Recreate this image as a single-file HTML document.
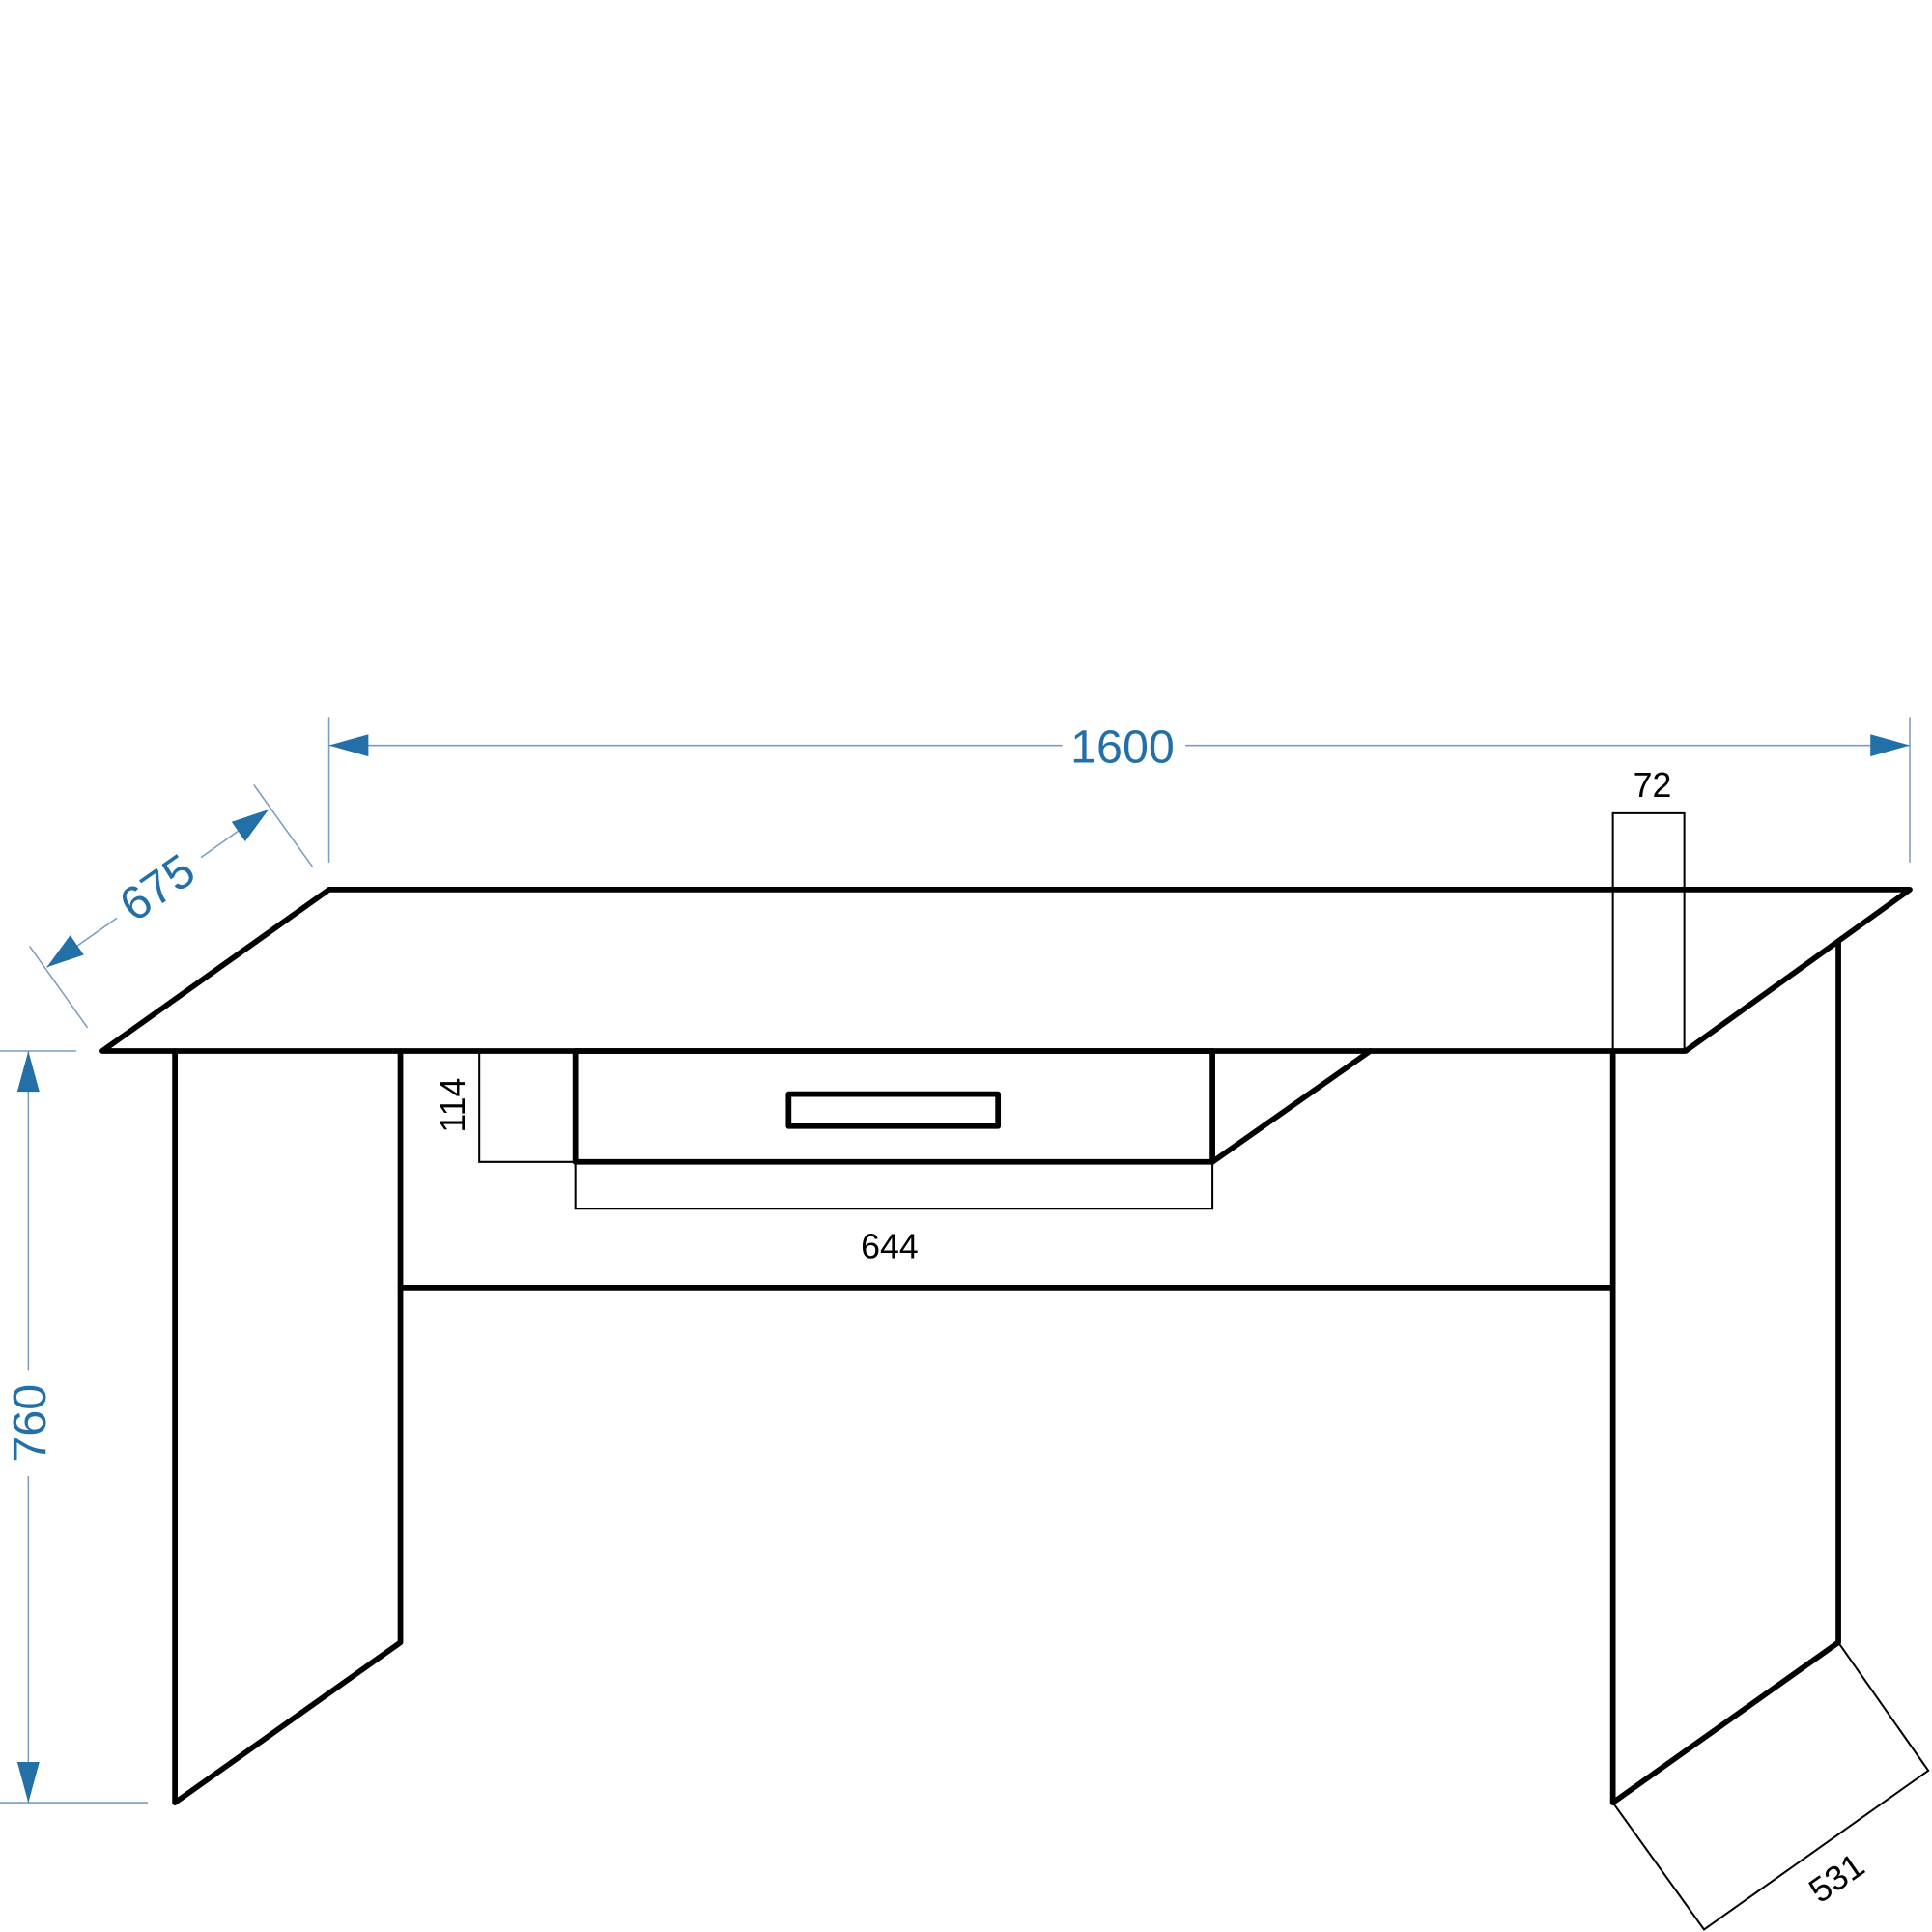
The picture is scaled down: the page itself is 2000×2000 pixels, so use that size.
<!DOCTYPE html>
<html><head><meta charset="utf-8"><style>html,body{margin:0;padding:0;background:#fff}svg{display:block}</style></head>
<body>
<svg width="2000" height="2000" viewBox="0 0 1568 1568" xmlns="http://www.w3.org/2000/svg" font-family="Liberation Sans, sans-serif">
<rect width="1568" height="1568" fill="#fff"/>
<g stroke="#000" stroke-width="4.5" fill="none" stroke-linejoin="round" stroke-linecap="round">
<polygon points="267,722 1550,722 1368,853 83,853"/>
<polyline points="142,853 142,1463 325,1333 325,853"/>
<line x1="325" y1="1045" x2="1309" y2="1045"/>
<rect x="467" y="853" width="517" height="90"/>
<line x1="984" y1="943" x2="1112" y2="853"/>
<rect x="640" y="888" width="170" height="26"/>
<polyline points="1309,853 1309,1463 1492,1333 1492,765"/>
</g>
<g stroke="#000" stroke-width="1.6" fill="none">
<polyline points="1309,853 1309,660 1367,660 1367,853"/>
<polyline points="1309,1463 1383,1566 1565,1437 1492,1333"/>
<polyline points="389,853 389,943 467,943"/>
<polyline points="467,943 467,981 984,981 984,943"/>
</g>
<g fill="#000" font-size="28">
<text x="1341" y="647" text-anchor="middle">72</text>
<text x="722" y="1021" text-anchor="middle">644</text>
<text transform="translate(377,897) rotate(-90)" text-anchor="middle">114</text>
<text transform="translate(1496,1532) rotate(-35)" text-anchor="middle">531</text>
</g>
<g stroke="#7a9cc0" stroke-width="1.2" fill="none">
<line x1="267" y1="582" x2="267" y2="700"/>
<line x1="1550" y1="582" x2="1550" y2="700"/>
<line x1="267" y1="605" x2="862" y2="605"/>
<line x1="962" y1="605" x2="1550" y2="605"/>
<line x1="0" y1="853" x2="62" y2="853"/>
<line x1="0" y1="1463" x2="120" y2="1463"/>
<line x1="23" y1="853" x2="23" y2="1112"/>
<line x1="23" y1="1198" x2="23" y2="1463"/>
<line x1="24" y1="768" x2="71" y2="834"/>
<line x1="206" y1="637" x2="254" y2="704"/>
<line x1="38" y1="785" x2="95" y2="745"/>
<line x1="163" y1="696" x2="218" y2="657"/>
</g>
<g fill="#2370a8">
<polygon points="267,605 299,596 299,614"/>
<polygon points="1550,605 1518,596 1518,614"/>
<polygon points="23,853 14,886 32,886"/>
<polygon points="23,1463 14,1430 32,1430"/>
<polygon points="38,785 57,759 68,775"/>
<polygon points="218,657 199,683 188,667"/>
</g>
<g fill="#2370a8" font-size="38">
<text x="911" y="619" text-anchor="middle">1600</text>
<text transform="translate(37,1155) rotate(-90)" text-anchor="middle">760</text>
<text transform="translate(135,731) rotate(-35)" text-anchor="middle">675</text>
</g>
</svg>
</body></html>
